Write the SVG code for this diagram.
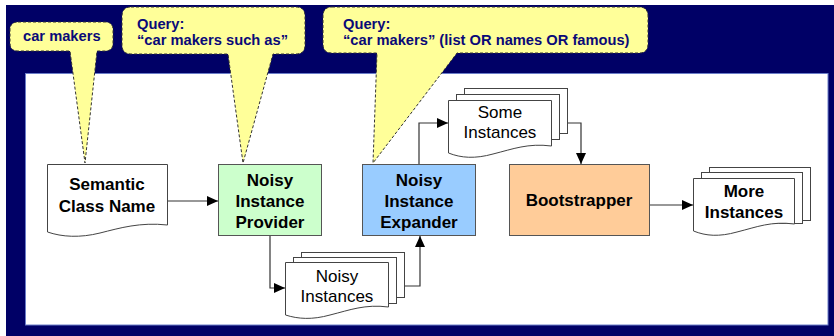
<svg xmlns="http://www.w3.org/2000/svg" width="834" height="336" viewBox="0 0 834 336">
<style>
text{font-family:"Liberation Sans",Arial,sans-serif}
.call{fill:#ffff99;stroke:#333;stroke-width:1;stroke-dasharray:3,2}
.ct{font-size:14.7px;font-weight:bold;fill:#0a0a78}
.box{stroke:#555;stroke-width:1}
.doc{fill:#fff;stroke:#444;stroke-width:1}
.bt{font-size:17px;font-weight:bold;fill:#000;text-anchor:middle}
.rt{font-size:17px;fill:#000;text-anchor:middle}
.conn{fill:none;stroke:#333;stroke-width:1.2}
</style>
<defs>
<marker id="ah" markerWidth="11" markerHeight="10" refX="11" refY="5" orient="auto" markerUnits="userSpaceOnUse">
<path d="M0,0 L11,5 L0,10 Z" fill="#000"/>
</marker>
</defs>
<rect x="6" y="5" width="828" height="331" fill="#000066"/>
<rect x="25.5" y="73.5" width="802.5" height="251.5" fill="#fff" stroke="#6a7cc8" stroke-width="1"/>

<g id="callout1">
<path class="call" d="M18,22 H105 Q113,22 113,30 V43 Q113,51 105,51 H97 L85,163 L70,51 H18 Q10,51 10,43 V30 Q10,22 18,22 Z"/>
<text class="ct" x="23" y="41">car makers</text>
</g>
<g id="callout2">
<path class="call" d="M131,7 H296 Q305,7 305,16 V45 Q305,54 296,54 H273 L243,163 L228,54 H131 Q122,54 122,45 V16 Q122,7 131,7 Z"/>
<text class="ct" x="137" y="29">Query:</text>
<text class="ct" x="137" y="45">“car makers such as”</text>
</g>
<g id="callout3">
<path class="call" d="M332,7 H639 Q648,7 648,16 V44 Q648,53 639,53 H457 L373,163 L377,53 H332 Q323,53 323,44 V16 Q323,7 332,7 Z"/>
<text class="ct" x="343" y="29">Query:</text>
<text class="ct" x="343" y="45">“car makers” (list OR names OR famous)</text>
</g>

<g id="connectors">
<path class="conn" d="M167,201 H218" marker-end="url(#ah)"/>
<path class="conn" d="M270,236 V288 H285" marker-end="url(#ah)"/>
<path class="conn" d="M404,286 H420 V236" marker-end="url(#ah)"/>
<path class="conn" d="M419,164 V123 H448" marker-end="url(#ah)"/>
<path class="conn" d="M567,123 H581 V164" marker-end="url(#ah)"/>
<path class="conn" d="M649,205 H693" marker-end="url(#ah)"/>
</g>

<g id="semantic-class-name">
<path class="doc" d="M47.5,164.5 H167.5 V225 C140,222 120,228 100,233 C80,238 62,237 47.5,232 Z"/>
<text class="bt" x="107" y="190">Semantic</text>
<text class="bt" x="107" y="212">Class Name</text>
</g>

<g id="noisy-instance-provider">
<rect class="box" x="218.5" y="164.5" width="103" height="71" fill="#ccffcc"/>
<text class="bt" x="270" y="186">Noisy</text>
<text class="bt" x="270" y="207">Instance</text>
<text class="bt" x="270" y="228">Provider</text>
</g>

<g id="noisy-instance-expander">
<rect class="box" x="362.5" y="164.5" width="113" height="71" fill="#99ccff"/>
<text class="bt" x="419" y="186">Noisy</text>
<text class="bt" x="419" y="207">Instance</text>
<text class="bt" x="419" y="228">Expander</text>
</g>

<g id="bootstrapper">
<rect class="box" x="509.5" y="164.5" width="140" height="71" fill="#ffcc99"/>
<text class="bt" x="579" y="206">Bootstrapper</text>
</g>

<g id="noisy-instances">
<rect class="doc" x="301.5" y="252.5" width="103" height="45"/>
<rect class="doc" x="293.5" y="257.5" width="103" height="46"/>
<path class="doc" d="M285.5,262.5 H388.5 V307 C365,304 350,310 330,315 C312,320 298,319 285.5,315 Z"/>
<text class="rt" x="337" y="282">Noisy</text>
<text class="rt" x="337" y="302">Instances</text>
</g>

<g id="some-instances">
<rect class="doc" x="464.5" y="88.5" width="103" height="45"/>
<rect class="doc" x="456.5" y="94.5" width="103" height="45"/>
<path class="doc" d="M448.5,100.5 H551.5 V146 C528,143 513,149 493,154 C475,159 461,158 448.5,153 Z"/>
<text class="rt" x="500" y="118">Some</text>
<text class="rt" x="500" y="138">Instances</text>
</g>

<g id="more-instances">
<rect class="doc" x="709.5" y="167.5" width="101" height="53"/>
<rect class="doc" x="701.5" y="172.5" width="101" height="51"/>
<path class="doc" d="M693.5,178.5 H794.5 V224 C771,221 757,227 737,232 C719,237 706,236 693.5,231 Z"/>
<text class="bt" x="744" y="197">More</text>
<text class="bt" x="744" y="218">Instances</text>
</g>
</svg>
